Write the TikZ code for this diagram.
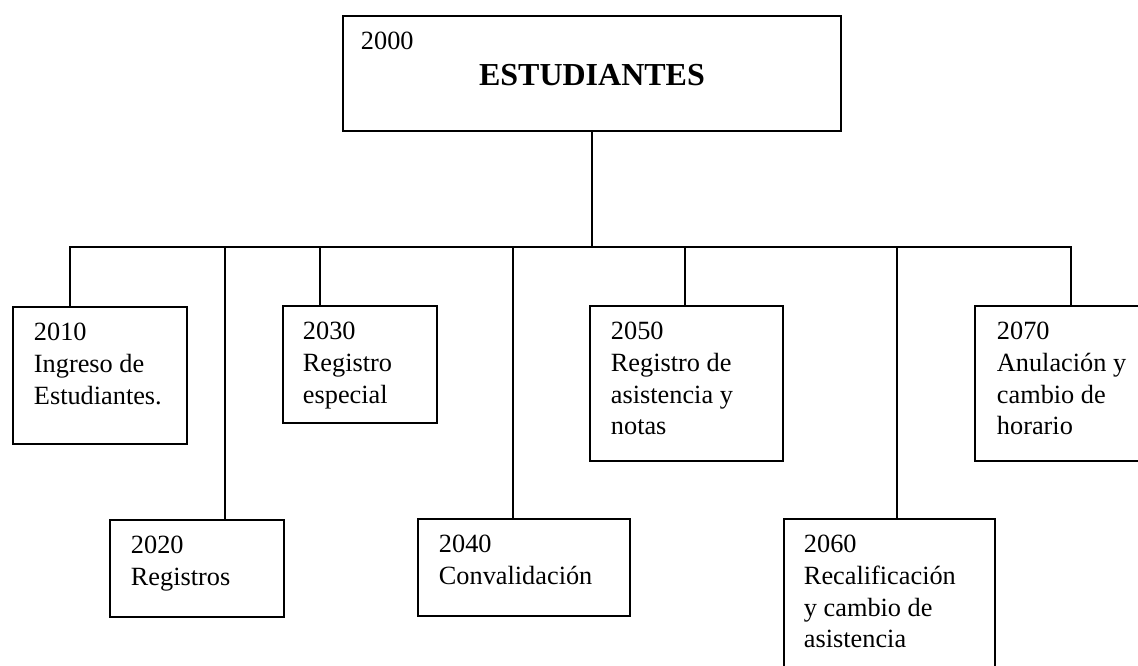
\documentclass[tikz,border=0pt]{standalone}
\usepackage{fontspec}
\setmainfont{Liberation Serif}
\usetikzlibrary{positioning, calc}

\begin{document}
\begin{tikzpicture}[
    x=1pt, y=-1pt,
    line width=1.9pt,
    box/.style={rectangle, draw, anchor=north west, inner sep=0pt},
    boxtext/.style={anchor=north west, inner sep=0pt, align=left, font=\fontsize{26.3}{31.7}\selectfont},
    title/.style={anchor=base, inner sep=0pt, font=\fontsize{32}{38}\selectfont\bfseries}
]
    % --- 1. Page frame (boxes on the edge are cut off) ---
    \path[use as bounding box, clip] (0,0) rectangle (1138,665);
    % --- 2. Root box ---
    \node (root) [box, minimum width=498pt, minimum height=115pt] at (342,15) {};
    \node (root_code) [boxtext] at ($(root.north west)+(18,16.4)$) {2000};
    \node (root_title) [title] at ($(root.north)+(0,70)$) {ESTUDIANTES};
    % --- 3. Child boxes ---
    \node (b2010) [box, minimum width=174pt, minimum height=137pt] at (12,306) {};
    \node (b2020) [box, minimum width=174pt, minimum height=97pt] at (109,519) {};
    \node (b2030) [box, minimum width=154pt, minimum height=117pt] at (282,305) {};
    \node (b2040) [box, minimum width=212pt, minimum height=97pt] at (417,518) {};
    \node (b2050) [box, minimum width=193pt, minimum height=155pt] at (589,305) {};
    \node (b2060) [box, minimum width=211pt, minimum height=180pt] at (783,518) {};
    \node (b2070) [box, minimum width=180pt, minimum height=155pt] at (974,305) {};
    % --- 4. Box texts ---
    \node (t2010) [boxtext] at ($(b2010.north west)+(21,16.4)$) {2010\\Ingreso de\\Estudiantes.};
    \node (t2020) [boxtext] at ($(b2020.north west)+(21,16.4)$) {2020\\Registros};
    \node (t2030) [boxtext] at ($(b2030.north west)+(20,16.4)$) {2030\\Registro\\especial};
    \node (t2040) [boxtext] at ($(b2040.north west)+(21,16.4)$) {2040\\Convalidación};
    \node (t2050) [boxtext] at ($(b2050.north west)+(21,16.4)$) {2050\\Registro de\\asistencia y\\notas};
    \node (t2060) [boxtext] at ($(b2060.north west)+(20,16.4)$) {2060\\Recalificación\\y cambio de\\asistencia};
    \node (t2070) [boxtext] at ($(b2070.north west)+(22,16.4)$) {2070\\Anulación y\\cambio de\\horario};
    % --- 5. Connectors ---
    \coordinate (bus_left) at (70,247);
    \coordinate (bus_right) at (1071,247);
    \draw (root.south) -- (root.south |- bus_left);
    \draw (b2010.north -| bus_left) -- (bus_left) -- (bus_right) -- (b2070.north -| bus_right);
    \foreach \xpos/\id in {225/2020, 320/2030, 513/2040, 685/2050, 897/2060} {
        \coordinate (drop\id) at (\xpos,247);
        \draw (drop\id) -- (drop\id |- b\id.north);
    }
\end{tikzpicture}
\end{document}
